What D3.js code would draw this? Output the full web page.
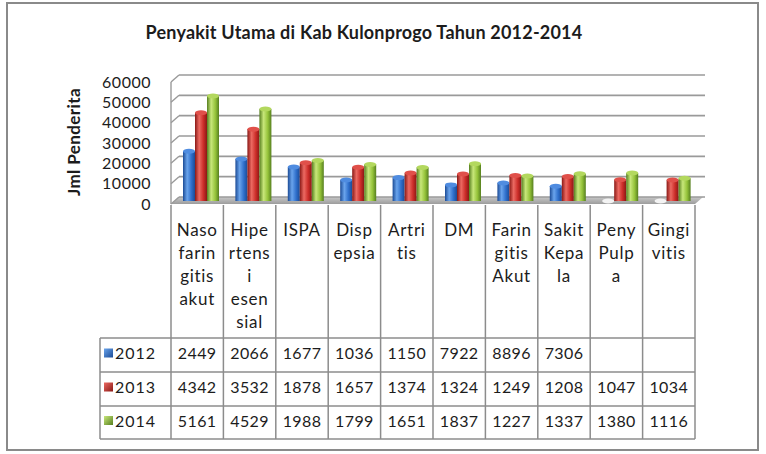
<!DOCTYPE html>
<html>
<head>
<meta charset="utf-8">
<script src="https://cdn.jsdelivr.net/npm/d3@7"></script>
<style>
    body { margin: 0; background: #fff; }
    .chart text { font-family: Lato, "Open Sans", sans-serif; fill: #1c1c1c; }
</style>
</head>
<body>
<svg class="chart" width="766" height="454"></svg>
<script>
// category labels, already wrapped the way the original table shows them
const categories = [
    ["Naso", "farin", "gitis", "akut"],
    ["Hipe", "rtens", "i", "esen", "sial"],
    ["ISPA"],
    ["Disp", "epsia"],
    ["Artri", "tis"],
    ["DM"],
    ["Farin", "gitis", "Akut"],
    ["Sakit", "Kepa", "la"],
    ["Peny", "Pulp", "a"],
    ["Gingi", "vitis"]
];
const years = ["2012", "2013", "2014"];

// bar heights
const values2012 = [24490, 20660, 16770, 10360, 11500, 7922, 8896, 7306, 0, 0];
const values2013 = [43420, 35320, 18780, 16570, 13740, 13240, 12490, 12080, 10470, 10340];
const values2014 = [51610, 45290, 19880, 17990, 16510, 18370, 12270, 13370, 13800, 11160];

// data table text, as printed under the chart
const table2012 = ["2449", "2066", "1677", "1036", "1150", "7922", "8896", "7306", "", ""];
const table2013 = ["4342", "3532", "1878", "1657", "1374", "1324", "1249", "1208", "1047", "1034"];
const table2014 = ["5161", "4529", "1988", "1799", "1651", "1837", "1227", "1337", "1380", "1116"];

const yTicks = [0, 10000, 20000, 30000, 40000, 50000, 60000];

const seriesValues = [values2012, values2013, values2014];
const tableRows = [table2012, table2013, table2014];

const palette = {
    "2012": {dark: "#1b4b96", light: "#6aa4ec", base: "#2f6fcb", cap: "#4f8ce0"},
    "2013": {dark: "#8a1815", light: "#ec6a62", base: "#cc2d29", cap: "#e0504a"},
    "2014": {dark: "#567f1f", light: "#c8e77a", base: "#95c33a", cap: "#b3d85e"}
};

const svg = d3.select(".chart");

// geometry of the 3d box
const depthX = 8, depthY = 7;
const left = 171, right = 695;

const x = d3.scaleBand()
    .domain(d3.range(categories.length))
    .range([left, right]);

const xInner = d3.scaleBand()
    .domain(years)
    .range([8, 44]);

const y = d3.scaleLinear()
    .domain([0, 60000])
    .range([204, 82]);

drawFrame();
drawWalls();
drawBars();
drawTable();

function drawFrame() {
    svg.append("rect")
        .attr("x", 7).attr("y", 3)
        .attr("width", 751).attr("height", 447)
        .attr("fill", "#fff")
        .attr("stroke", "#8a8a8a")
        .attr("stroke-width", 2);

    svg.append("text")
        .attr("x", 364)
        .attr("y", 39)
        .attr("text-anchor", "middle")
        .style("font-size", "18px")
        .style("font-weight", "700")
        .style("letter-spacing", "0.2px")
        .text("Penyakit Utama di Kab Kulonprogo Tahun 2012-2014");

    svg.append("text")
        .attr("transform", "translate(80,142) rotate(-90)")
        .attr("text-anchor", "middle")
        .style("font-size", "17px")
        .style("font-weight", "700")
        .style("letter-spacing", "0.4px")
        .text("Jml Penderita");
}

function drawWalls() {
    const defs = svg.append("defs");
    const floorGrad = defs.append("linearGradient")
        .attr("id", "floorGrad")
        .attr("x1", 0).attr("y1", 1).attr("x2", 0).attr("y2", 0);
    floorGrad.append("stop").attr("offset", 0).attr("stop-color", "#9c9c9c");
    floorGrad.append("stop").attr("offset", 1).attr("stop-color", "#c8c8c8");

    // floor
    svg.append("polygon")
        .attr("points", [
            [left, y(0)], [right, y(0)],
            [right + depthX, y(0) - depthY], [left + depthX, y(0) - depthY]
        ].join(" "))
        .attr("fill", "url(#floorGrad)");

    // gridlines on the back wall
    svg.append("g").selectAll("line")
        .data(yTicks)
        .join("line")
        .attr("x1", left + depthX)
        .attr("x2", right + depthX + 2)
        .attr("y1", d => y(d) - depthY)
        .attr("y2", d => y(d) - depthY)
        .attr("stroke", "#9a9a9a")
        .attr("stroke-width", 1.6);

    // side wall
    svg.append("g").selectAll("line")
        .data(yTicks)
        .join("line")
        .attr("x1", left)
        .attr("x2", left + depthX)
        .attr("y1", d => y(d))
        .attr("y2", d => y(d) - depthY)
        .attr("stroke", "#9a9a9a")
        .attr("stroke-width", 1.4);

    svg.append("line")
        .attr("x1", left).attr("x2", left)
        .attr("y1", y(0)).attr("y2", y(60000))
        .attr("stroke", "#9a9a9a")
        .attr("stroke-width", 1.4);

    // Y axis labels
    const axis = svg.append("g")
        .attr("transform", `translate(${left},0)`)
        .call(d3.axisLeft(y).tickValues(yTicks).tickFormat(d3.format("d")).tickSize(0).tickPadding(20));
    axis.select(".domain").remove();
    axis.selectAll(".tick text")
        .style("font-family", "Lato, sans-serif")
        .style("font-size", "16px")
        .style("letter-spacing", "0.5px")
        .attr("fill", "#1c1c1c");
}

function drawBars() {
    const defs = svg.select("defs");
    years.forEach(yr => {
        const g = defs.append("linearGradient")
            .attr("id", "bar" + yr)
            .attr("x1", 0).attr("x2", 1).attr("y1", 0).attr("y2", 0);
        g.append("stop").attr("offset", 0).attr("stop-color", palette[yr].dark);
        g.append("stop").attr("offset", 0.35).attr("stop-color", palette[yr].light);
        g.append("stop").attr("offset", 0.7).attr("stop-color", palette[yr].base);
        g.append("stop").attr("offset", 1).attr("stop-color", palette[yr].dark);
    });

    const bars = [];
    categories.forEach((c, i) => {
        years.forEach((yr, j) => {
            bars.push({cat: i, year: yr, value: seriesValues[j][i]});
        });
    });

    const mid = 3;  // bars stand half way into the box
    const bw = xInner.bandwidth();

    const groups = svg.append("g").selectAll("g")
        .data(bars)
        .join("g")
        .attr("transform", d => `translate(${x(d.cat) + xInner(d.year) + 4},${-mid})`);

    groups.filter(d => d.value > 0).append("rect")
        .attr("x", 0)
        .attr("width", bw)
        .attr("y", d => y(d.value))
        .attr("height", d => y(0) - y(d.value))
        .attr("fill", d => `url(#bar${d.year})`);

    groups.append("ellipse")
        .attr("cx", bw / 2)
        .attr("cy", d => y(d.value))
        .attr("rx", bw / 2)
        .attr("ry", 2.5)
        .attr("fill", d => d.value > 0 ? palette[d.year].cap : "#f3f3f3");
}

function drawTable() {
    const lineColor = "#8c8c8c";
    const rowTop = [338, 372, 406, 439];
    const tableLeft = 100;

    const lines = svg.append("g")
        .attr("stroke", lineColor)
        .attr("stroke-width", 1.5);

    // column dividers
    lines.selectAll(".col")
        .data(d3.range(categories.length + 1))
        .join("line")
        .attr("class", "col")
        .attr("x1", d => d < categories.length ? x(d) : right)
        .attr("x2", d => d < categories.length ? x(d) : right)
        .attr("y1", y(0) + 1)
        .attr("y2", rowTop[3]);

    lines.append("line")
        .attr("x1", tableLeft).attr("x2", tableLeft)
        .attr("y1", rowTop[0]).attr("y2", rowTop[3]);

    lines.selectAll(".row")
        .data(rowTop)
        .join("line")
        .attr("class", "row")
        .attr("x1", tableLeft).attr("x2", right)
        .attr("y1", d => d).attr("y2", d => d);

    // category names
    const catG = svg.append("g").selectAll("g")
        .data(categories)
        .join("g")
        .attr("transform", (d, i) => `translate(${x(i) + x.bandwidth() / 2},0)`);

    catG.selectAll("text")
        .data(d => d)
        .join("text")
        .attr("y", (d, k) => 236 + k * 23)
        .attr("text-anchor", "middle")
        .style("font-size", "17px")
        .style("letter-spacing", "0.7px")
        .text(d => d);

    // legend + values
    years.forEach((yr, j) => {
        const cy = (rowTop[j] + rowTop[j + 1]) / 2 - 2;

        const sw = svg.append("defs").append("linearGradient")
            .attr("id", "sw" + yr)
            .attr("x1", 0).attr("y1", 0).attr("x2", 1).attr("y2", 1);
        sw.append("stop").attr("offset", 0).attr("stop-color", palette[yr].light);
        sw.append("stop").attr("offset", 1).attr("stop-color", palette[yr].dark);

        svg.append("rect")
            .attr("x", 104).attr("y", cy - 4.5)
            .attr("width", 9).attr("height", 9)
            .attr("fill", `url(#sw${yr})`);

        svg.append("text")
            .attr("x", 115)
            .attr("y", cy + 6)
            .style("font-size", "16px")
            .style("letter-spacing", "1px")
            .text(yr);

        svg.append("g").selectAll("text")
            .data(tableRows[j])
            .join("text")
            .attr("x", (d, i) => x(i) + x.bandwidth() / 2)
            .attr("y", cy + 6)
            .attr("text-anchor", "middle")
            .style("font-size", "16px")
            .style("letter-spacing", "0.4px")
            .text(d => d);
    });
}
</script>
</body>
</html>
